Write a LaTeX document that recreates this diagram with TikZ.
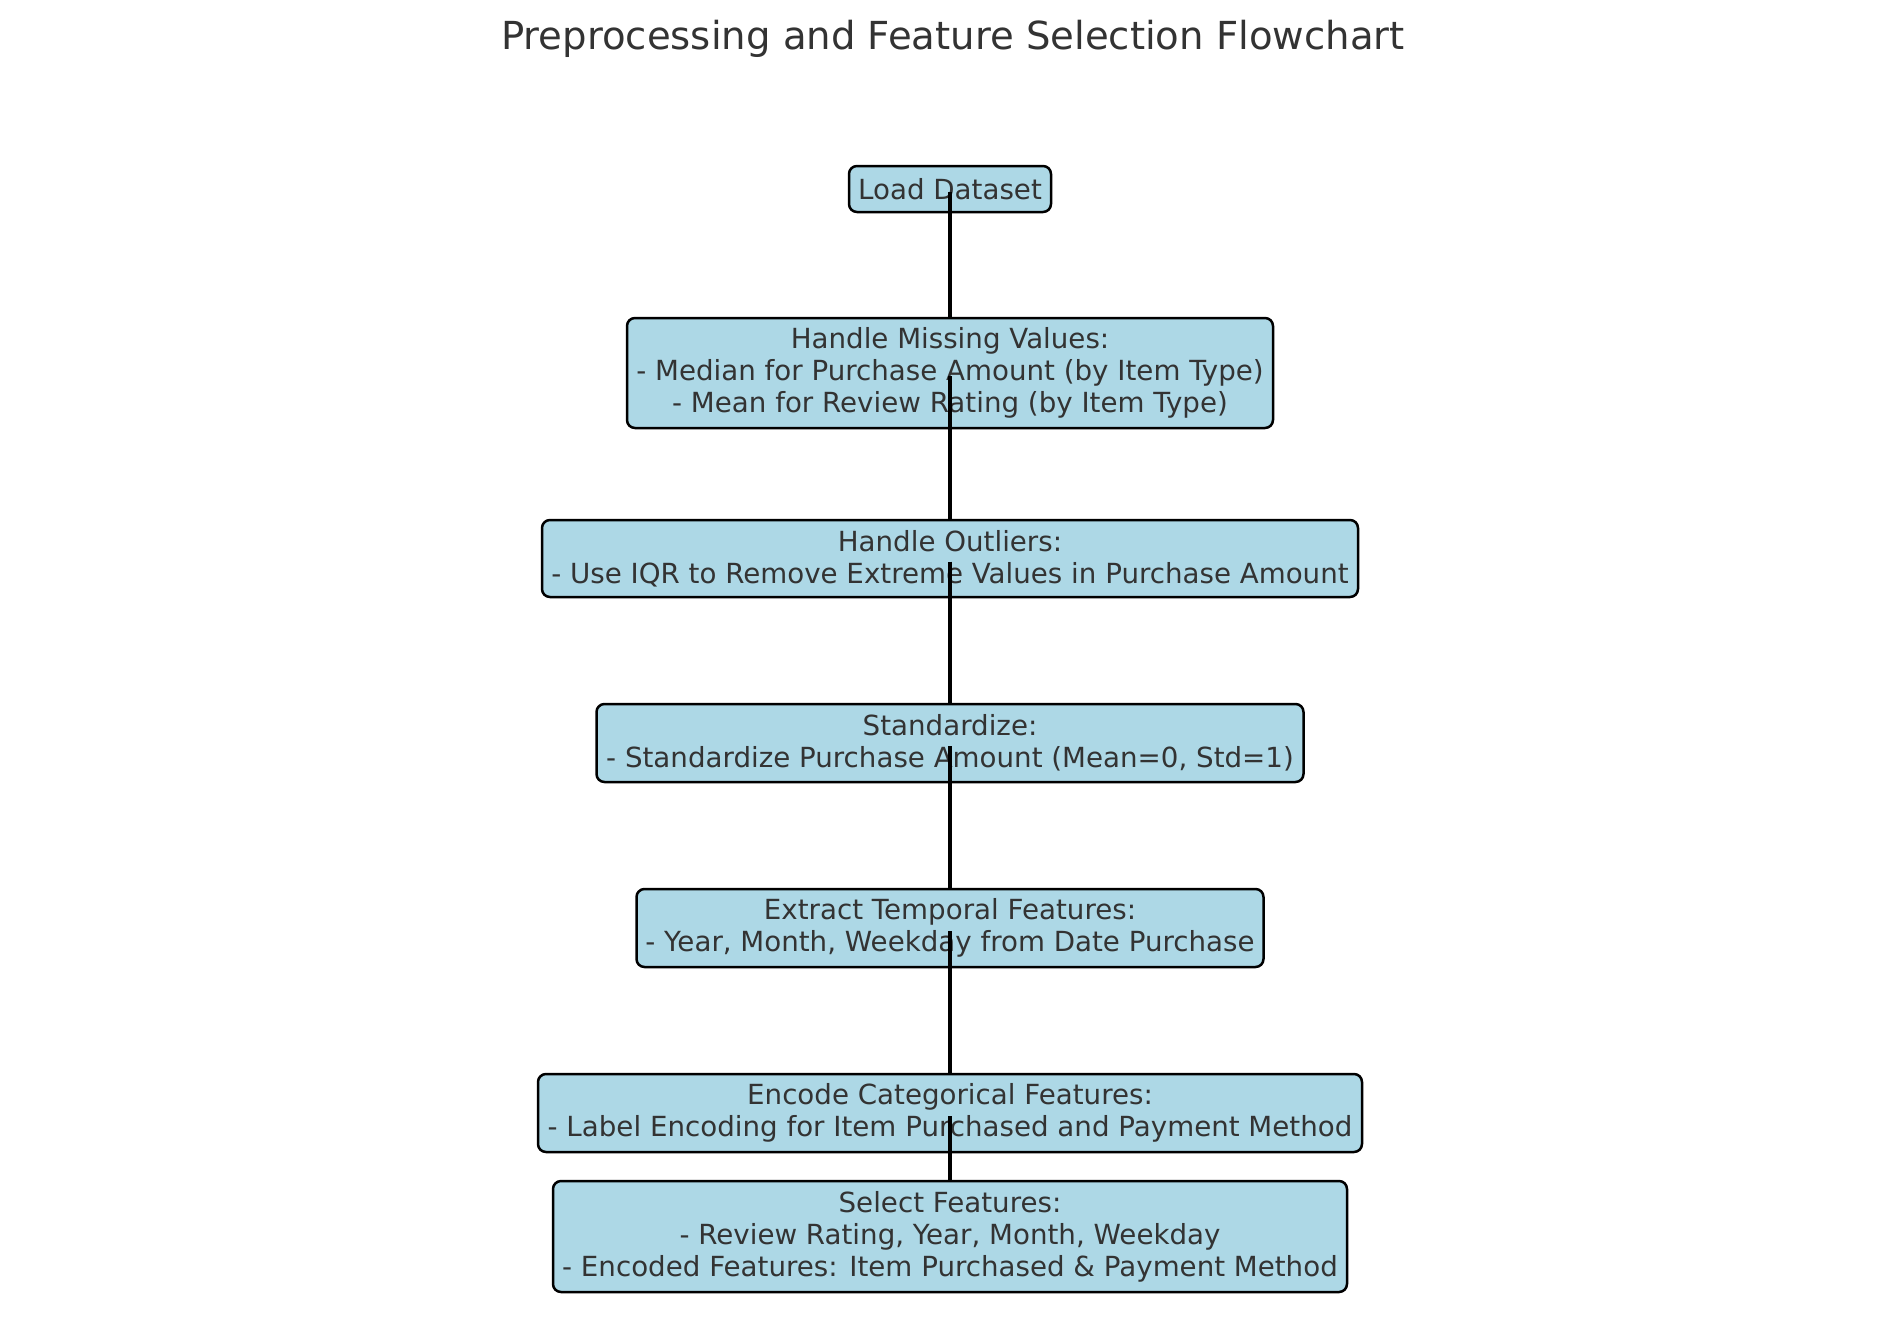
\documentclass[tikz,border=0pt]{standalone}
\usepackage{fontspec}
\setmainfont{DejaVu Sans}
\definecolor{boxfill}{HTML}{ADD8E6}
\definecolor{txt}{HTML}{333333}
\begin{document}
\begin{tikzpicture}[x=1pt,y=-1pt,
  stepbox/.style={draw=black, line width=2.5pt, fill=boxfill, rounded corners=8pt,
    text=txt, font=\fontsize{27.7}{32}\selectfont, align=center, inner sep=0pt},
  link/.style={draw=black, line width=3.4pt},
  titlestyle/.style={text=txt, font=\fontsize{38.6}{44}\selectfont, inner sep=0pt}]
\useasboundingbox[fill=white] (0,0) rectangle (1900,1318);
\node[titlestyle] (title) at (953,39) {Preprocessing and Feature Selection Flowchart};
\node[stepbox, minimum width=202pt, minimum height=46pt] (load) at (950,189) {Load Dataset};
\node[stepbox, minimum width=646pt, minimum height=110pt] (miss) at (950,373) {Handle Missing Values:\\- Median for Purchase Amount (by Item Type)\\- Mean for Review Rating (by Item Type)};
\node[stepbox, minimum width=816pt, minimum height=77pt] (outl) at (950,558.5) {Handle Outliers:\\- Use IQR to Remove Extreme Values in Purchase Amount};
\node[stepbox, minimum width=707pt, minimum height=78pt] (stand) at (950,743) {Standardize:\\- Standardize Purchase Amount (Mean=0, Std=1)};
\node[stepbox, minimum width=627pt, minimum height=78pt] (temp) at (950,928) {Extract Temporal Features:\\- Year, Month, Weekday from Date Purchase};
\node[stepbox, minimum width=824pt, minimum height=78pt] (enc) at (950,1113) {Encode Categorical Features:\\- Label Encoding for Item Purchased and Payment Method};
\node[stepbox, minimum width=794pt, minimum height=111pt] (sel) at (950,1236.5) {Select Features:\\- Review Rating, Year, Month, Weekday\\- Encoded Features: Item Purchased \& Payment Method};
\draw[link] ([yshift=-3pt]load.center) -- (miss.north);
\draw[link] ([yshift=-3pt]miss.center) -- (outl.north);
\draw[link] ([yshift=-3pt]outl.center) -- (stand.north);
\draw[link] ([yshift=-3pt]stand.center) -- (temp.north);
\draw[link] ([yshift=-3pt]temp.center) -- (enc.north);
\draw[link] ([yshift=-3pt]enc.center) -- (sel.north);
\end{tikzpicture}
\end{document}
